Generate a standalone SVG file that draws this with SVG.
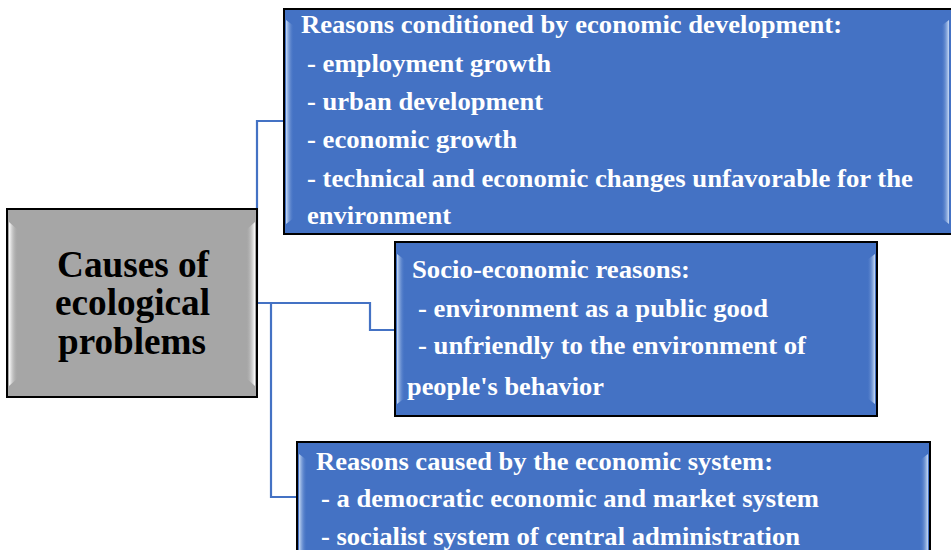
<svg xmlns="http://www.w3.org/2000/svg" width="951" height="550" viewBox="0 0 951 550">
<defs>
<linearGradient id="gl" x1="0" y1="0" x2="1" y2="0"><stop offset="0" stop-color="#c9dcf5"/><stop offset="1" stop-color="#4472c4" stop-opacity="0"/></linearGradient>
<linearGradient id="gr" x1="1" y1="0" x2="0" y2="0"><stop offset="0" stop-color="#c9dcf5"/><stop offset="1" stop-color="#4472c4" stop-opacity="0"/></linearGradient>
<linearGradient id="ggl" x1="0" y1="0" x2="1" y2="0"><stop offset="0" stop-color="#ffffff"/><stop offset="1" stop-color="#a6a6a6" stop-opacity="0"/></linearGradient>
<linearGradient id="ggr" x1="1" y1="0" x2="0" y2="0"><stop offset="0" stop-color="#ffffff"/><stop offset="1" stop-color="#a6a6a6" stop-opacity="0"/></linearGradient>
</defs>
<style>
.box{fill:#4472c4;stroke:#000;stroke-width:2}
.main{fill:#a6a6a6;stroke:#000;stroke-width:2}
.t{font-family:"Liberation Serif","Times New Roman",serif;font-weight:bold;font-size:26px;fill:#fff}
.mt{font-family:"Liberation Serif","Times New Roman",serif;font-weight:bold;font-size:38px;fill:#000}
.c{fill:none;stroke:#4472c4;stroke-width:2.2}
</style>
<g id="connectors">
<path class="c" d="M257,303 V121 H284"/>
<path class="c" d="M257,303 H370 V330 H395"/>
<path class="c" d="M271,303 V497 H297"/>
</g>
<g id="main">
<rect class="main" x="7" y="209" width="250" height="188"/>
<path d="M9,222 L18,230 L18,378 L9,386 Z" fill="url(#ggl)"/>
<path d="M255,222 L246,230 L246,378 L255,386 Z" fill="url(#ggr)"/>
<text class="mt" x="57" y="277" textLength="152" lengthAdjust="spacingAndGlyphs">Causes of</text>
<text class="mt" x="55" y="315" textLength="155" lengthAdjust="spacingAndGlyphs">ecological</text>
<text class="mt" x="58" y="354" textLength="148" lengthAdjust="spacingAndGlyphs">problems</text>
</g>
<g id="box1">
<rect class="box" x="284" y="9" width="670" height="225"/>
<path d="M286,20 L294,26 L294,218 L286,224 Z" fill="url(#gl)"/>
<path d="M949,20 L941,26 L941,218 L949,224 Z" fill="url(#gr)"/>
<text class="t" x="301" y="33" textLength="541" lengthAdjust="spacingAndGlyphs">Reasons conditioned by economic development:</text>
<text class="t" x="307" y="72" textLength="244" lengthAdjust="spacingAndGlyphs">- employment growth</text>
<text class="t" x="307" y="110" textLength="236" lengthAdjust="spacingAndGlyphs">- urban development</text>
<text class="t" x="307" y="148" textLength="210" lengthAdjust="spacingAndGlyphs">- economic growth</text>
<text class="t" x="307" y="187" textLength="606" lengthAdjust="spacingAndGlyphs">- technical and economic changes unfavorable for the</text>
<text class="t" x="307" y="224" textLength="144" lengthAdjust="spacingAndGlyphs">environment</text>
</g>
<g id="box2">
<rect class="box" x="395" y="242" width="482" height="174"/>
<path d="M397,254 L405,260 L405,398 L397,404 Z" fill="url(#gl)"/>
<path d="M875,254 L867,260 L867,398 L875,404 Z" fill="url(#gr)"/>
<text class="t" x="412" y="278" textLength="278" lengthAdjust="spacingAndGlyphs">Socio-economic reasons:</text>
<text class="t" x="418" y="317" textLength="350" lengthAdjust="spacingAndGlyphs">- environment as a public good</text>
<text class="t" x="418" y="354" textLength="388" lengthAdjust="spacingAndGlyphs">- unfriendly to the environment of</text>
<text class="t" x="407" y="395" textLength="197" lengthAdjust="spacingAndGlyphs">people's behavior</text>
</g>
<g id="box3">
<rect class="box" x="297" y="442" width="633" height="120"/>
<path d="M299,454 L307,460 L307,560 L299,566 Z" fill="url(#gl)"/>
<path d="M928,454 L920,460 L920,560 L928,566 Z" fill="url(#gr)"/>
<text class="t" x="316" y="470" textLength="457" lengthAdjust="spacingAndGlyphs">Reasons caused by the economic system:</text>
<text class="t" x="321" y="507" textLength="498" lengthAdjust="spacingAndGlyphs">- a democratic economic and market system</text>
<text class="t" x="321" y="545" textLength="479" lengthAdjust="spacingAndGlyphs">- socialist system of central administration</text>
</g>
</svg>
